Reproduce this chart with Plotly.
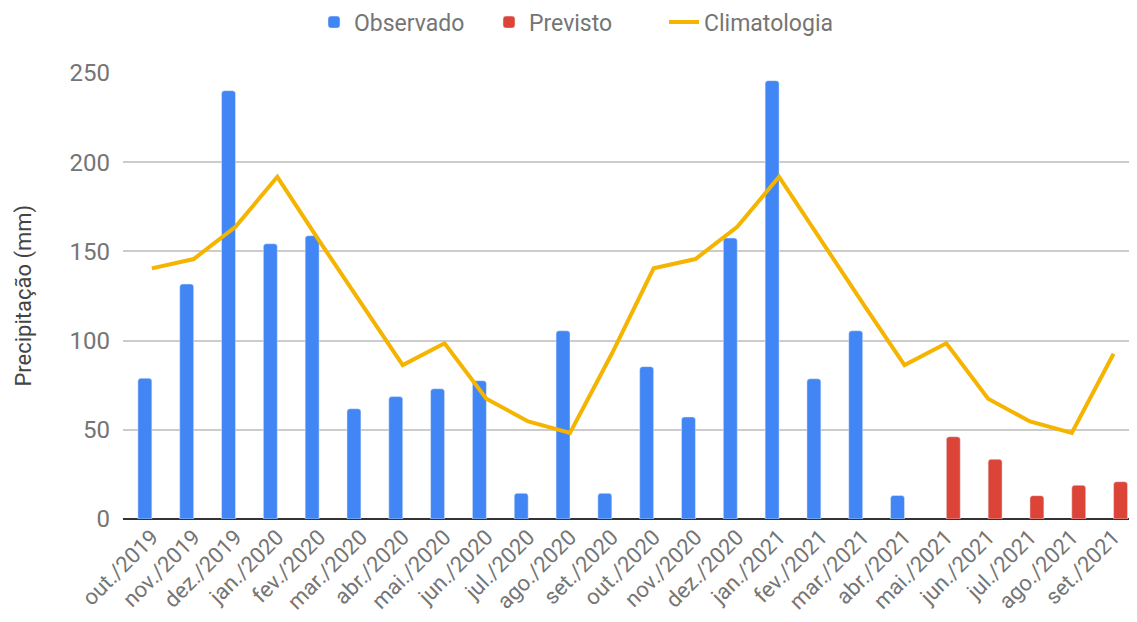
import plotly.graph_objects as go

categories = ["out./2019", "nov./2019", "dez./2019", "jan./2020", "fev./2020", "mar./2020",
              "abr./2020", "mai./2020", "jun./2020", "jul./2020", "ago./2020", "set./2020",
              "out./2020", "nov./2020", "dez./2020", "jan./2021", "fev./2021", "mar./2021",
              "abr./2021", "mai./2021", "jun./2021", "jul./2021", "ago./2021", "set./2021"]

observado = [78.9, 131.7, 240.1, 154.3, 158.8, 61.8, 68.6, 73.0, 77.5, 14.4, 105.5, 14.4,
             85.4, 57.2, 157.5, 245.7, 78.6, 105.5, 13.2, None, None, None, None, None]

previsto = [None] * 19 + [46.1, 33.5, 13.1, 18.9, 20.9]

climatologia = [140.5, 145.7, 163.8, 191.8, 156.0, 121.0, 86.3, 98.5, 67.4, 54.7, 48.2, 92.6,
                140.5, 145.7, 163.8, 191.8, 156.0, 121.0, 86.3, 98.5, 67.4, 54.7, 48.2, 92.6]

y_ticks = [0, 50, 100, 150, 200, 250]

FONT = "Roboto"
GRAY = "#757575"

fig = go.Figure()
fig.add_trace(go.Bar(x=categories, y=observado, name="Observado", marker_color="#4285F4"))
fig.add_trace(go.Bar(x=categories, y=previsto, name="Previsto", marker_color="#DB4437"))
fig.add_trace(go.Scatter(x=categories, y=climatologia, name="Climatologia", mode="lines",
                         line=dict(color="#F4B400", width=4)))

fig.update_layout(
    width=1137, height=622,
    margin=dict(l=115, r=8, t=65, b=111, autoexpand=False),
    paper_bgcolor="white", plot_bgcolor="white",
    barmode="group", bargap=1/3, bargroupgap=0, barcornerradius=3,
    font=dict(family=FONT, size=23, color=GRAY),
    legend=dict(orientation="h", xref="container", x=0.5, xanchor="center",
                yref="paper", y=1.114, yanchor="middle",
                entrywidth=130, entrywidthmode="pixels",
                font=dict(family=FONT, size=23, color=GRAY), itemwidth=30),
    showlegend=True,
    annotations=[dict(text="Precipitação (mm)", xref="paper", yref="paper",
                      x=-0.1, xanchor="center", y=0.5, yanchor="middle",
                      textangle=-90, showarrow=False,
                      font=dict(family=FONT, size=22, color="#444444"),
                      xshift=2)],
)
fig.update_xaxes(
    type="category", range=[-0.69, 23.56], tickangle=-45, automargin=False,
    tickfont=dict(family=FONT, size=22, color=GRAY),
    showgrid=False, showline=False, ticks="",
)
fig.update_yaxes(
    range=[0, 250], tickvals=y_ticks, automargin=False,
    tickfont=dict(family=FONT, size=24, color=GRAY),
    gridcolor="#CCCCCC", gridwidth=1.5,
    zeroline=True, zerolinecolor="#333333", zerolinewidth=2,
    ticklabelstandoff=12,
)

fig.write_html("out.html")
